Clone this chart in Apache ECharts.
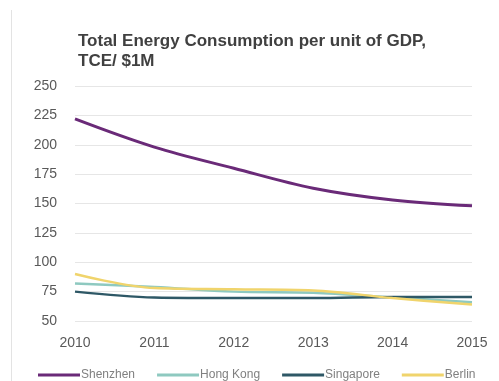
<!DOCTYPE html>
<html>
<head>
<meta charset="utf-8">
<script src="https://cdn.jsdelivr.net/npm/echarts@6/dist/echarts.min.js"></script>
<style>
  html, body { margin: 0; padding: 0; background: #fff; }
  #chart { width: 499px; height: 381px; }
</style>
</head>
<body>
<div id="chart"></div>
<script>
// Energy intensity by city, tonnes of coal equivalent per $1M of GDP
const years = ['2010', '2011', '2012', '2013', '2014', '2015'];
const shenzhen = [222, 198, 180, 163, 153, 148];
const hongKong = [82, 79, 75, 74, 70, 66];
const singapore = [75, 70, 69.5, 69.5, 70.5, 70.5];
const berlin = [90, 78, 77, 76, 69.5, 64];
const yTicks = { min: 50, max: 250, step: 25 };

const chart = echarts.init(document.getElementById('chart'));
const FONT = 'Liberation Sans, Arial, sans-serif';

function line(name, data, color, width) {
  return {
    name: name,
    type: 'line',
    data: data,
    smooth: 0.35,
    symbol: 'none',
    lineStyle: { color: color, width: width },
    itemStyle: { color: color }
  };
}

chart.setOption({
  animation: false,
  title: {
    text: 'Total Energy Consumption per unit of GDP,\nTCE/ $1M',
    left: 73,
    top: 26,
    textStyle: {
      fontFamily: FONT,
      fontSize: 17,
      fontWeight: 'bold',
      color: '#404040',
      lineHeight: 20
    }
  },
  legend: {
    bottom: 0,
    left: 33,
    padding: [5, 5, 0, 5],
    itemWidth: 42,
    itemHeight: 3,
    itemGap: 22,
    icon: 'rect',
    textStyle: {
      fontFamily: FONT,
      fontSize: 12,
      color: '#808080',
      padding: [0, 0, 0, -4]
    },
    data: ['Shenzhen', 'Hong Kong', 'Singapore', 'Berlin']
  },
  grid: { left: 75, right: 27, top: 86, bottom: 60 },
  xAxis: {
    type: 'category',
    data: years,
    boundaryGap: false,
    axisLine: { show: false },
    axisTick: { show: false },
    splitLine: { show: false },
    axisLabel: {
      margin: 15,
      fontFamily: FONT,
      fontSize: 14,
      color: '#595959'
    }
  },
  yAxis: {
    type: 'value',
    min: yTicks.min,
    max: yTicks.max,
    interval: yTicks.step,
    axisLine: { show: false },
    axisTick: { show: false },
    splitLine: { lineStyle: { color: '#e6e6e6', width: 1 } },
    axisLabel: {
      margin: 18,
      fontFamily: FONT,
      fontSize: 14,
      color: '#595959'
    }
  },
  graphic: [{
    type: 'line',
    shape: { x1: 11.5, y1: 10, x2: 11.5, y2: 381 },
    style: { stroke: '#e3e3e3', lineWidth: 1 }
  }],
  series: [
    line('Shenzhen', shenzhen, '#6a2a78', 3),
    line('Hong Kong', hongKong, '#8ec9c0', 2.5),
    line('Singapore', singapore, '#2e5866', 2.5),
    line('Berlin', berlin, '#f0d46c', 2.5)
  ]
});
</script>
</body>
</html>
